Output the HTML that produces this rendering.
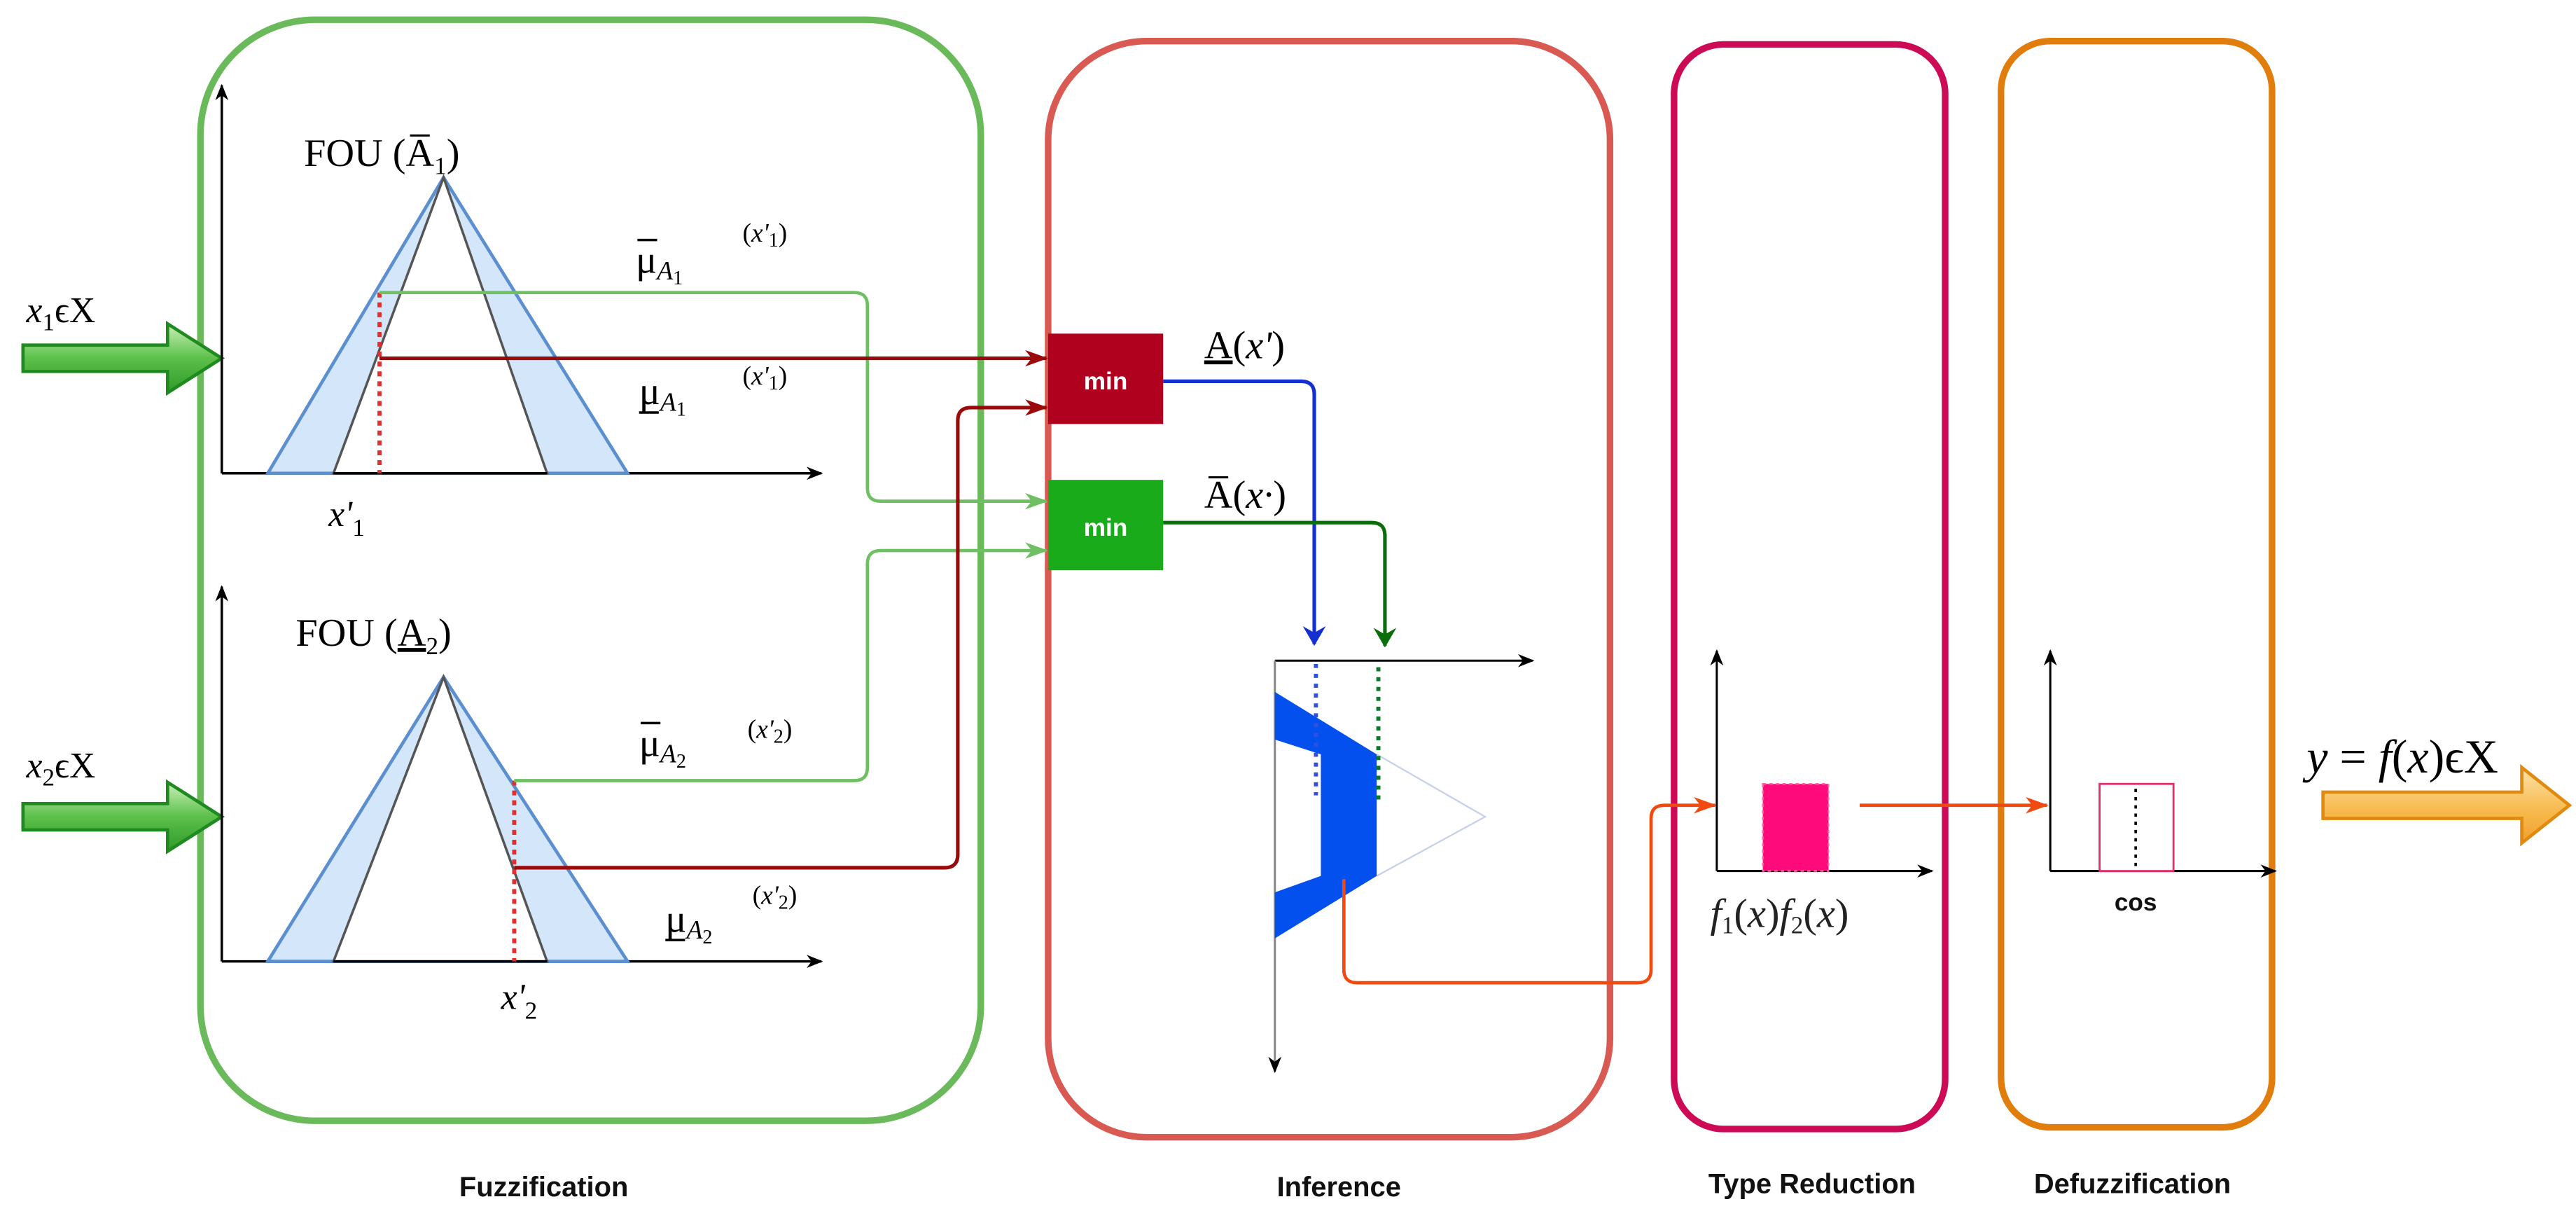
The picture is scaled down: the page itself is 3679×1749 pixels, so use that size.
<!DOCTYPE html>
<html><head><meta charset="utf-8"><style>
html,body{margin:0;padding:0;background:#fff;}
svg{display:block;}
.s{font-family:"Liberation Serif",serif;}
.b{font-family:"Liberation Sans",sans-serif;font-weight:bold;}
</style></head><body>
<svg width="3679" height="1749" viewBox="0 0 1568 745.4" xmlns="http://www.w3.org/2000/svg">
<defs>
<marker id="ak" markerWidth="10" markerHeight="8" refX="9" refY="4" orient="auto" markerUnits="userSpaceOnUse"><path d="M0,0 L10,4 L0,8 L3,4z" fill="#000"/></marker>
<marker id="ar" markerWidth="14" markerHeight="10" refX="13" refY="5" orient="auto" markerUnits="userSpaceOnUse"><path d="M0,0 L14,5 L0,10 L4,5z" fill="#9b0a0a"/></marker>
<marker id="ag" markerWidth="14" markerHeight="10" refX="13" refY="5" orient="auto" markerUnits="userSpaceOnUse"><path d="M0,0 L14,5 L0,10 L4,5z" fill="#6fc062"/></marker>
<marker id="ab" markerWidth="12" markerHeight="14" refX="11" refY="7" orient="auto" markerUnits="userSpaceOnUse"><path d="M0,0 L12,7 L0,14 L4,7z" fill="#1530d0"/></marker>
<marker id="adg" markerWidth="12" markerHeight="14" refX="11" refY="7" orient="auto" markerUnits="userSpaceOnUse"><path d="M0,0 L12,7 L0,14 L4,7z" fill="#0a6e0a"/></marker>
<marker id="ao" markerWidth="14" markerHeight="10" refX="13" refY="5" orient="auto" markerUnits="userSpaceOnUse"><path d="M0,0 L14,5 L0,10 L4,5z" fill="#f04a10"/></marker>
<linearGradient id="gg" x1="0" y1="0" x2="0" y2="1"><stop offset="0" stop-color="#c9f0b8"/><stop offset="0.5" stop-color="#5cc04a"/><stop offset="1" stop-color="#2f9a2a"/></linearGradient>
<linearGradient id="go" x1="0" y1="0" x2="0" y2="1"><stop offset="0" stop-color="#fde3a8"/><stop offset="0.6" stop-color="#f7b84a"/><stop offset="1" stop-color="#f0a030"/></linearGradient>
</defs>

<rect x="122" y="12" width="475" height="670" rx="70" fill="none" stroke="#6ab95b" stroke-width="4"/>
<rect x="638" y="25" width="342" height="667" rx="60" fill="none" stroke="#d95a52" stroke-width="4"/>
<rect x="1019" y="27" width="165" height="660" rx="30" fill="none" stroke="#cc0a55" stroke-width="4"/>
<rect x="1218" y="25" width="165" height="661" rx="30" fill="none" stroke="#e07d0c" stroke-width="4"/>

<g class="b" font-size="17" text-anchor="middle" fill="#111">
<text x="331" y="728">Fuzzification</text>
<text x="815" y="728">Inference</text>
<text x="1103" y="726">Type Reduction</text>
<text x="1298" y="726">Defuzzification</text>
</g>

<path d="M14,210 L102,210 L102,197 L135,218 L102,239 L102,226 L14,226z" fill="url(#gg)" stroke="#1f8a1f" stroke-width="2"/>
<path d="M14,489 L102,489 L102,476 L135,497 L102,518 L102,505 L14,505z" fill="url(#gg)" stroke="#1f8a1f" stroke-width="2"/>
<text class="s" x="16" y="196" font-size="22"><tspan font-style="italic">x</tspan><tspan font-size="15" dy="5">1</tspan><tspan dy="-5">ϵX</tspan></text>
<text class="s" x="16" y="473" font-size="22"><tspan font-style="italic">x</tspan><tspan font-size="15" dy="5">2</tspan><tspan dy="-5">ϵX</tspan></text>

<line x1="135" y1="288" x2="135" y2="52" stroke="#000" stroke-width="1.5" marker-end="url(#ak)"/>
<line x1="135" y1="288" x2="500" y2="288" stroke="#000" stroke-width="1.5" marker-end="url(#ak)"/>
<polygon points="163,288 270,108 382,288" fill="#d3e6fa" stroke="#5b8fd0" stroke-width="2"/>
<polygon points="203,288 270,108 333,288" fill="#fff" stroke="#555" stroke-width="1.5"/>
<line x1="203" y1="288" x2="333" y2="288" stroke="#000" stroke-width="1.5"/>
<line x1="231" y1="178" x2="231" y2="288" stroke="#e03030" stroke-width="2.5" stroke-dasharray="3,3"/>
<text class="s" x="185" y="101" font-size="24">FOU (<tspan>A̅</tspan><tspan font-size="15" dy="5">1</tspan><tspan dy="-5">)</tspan></text>
<text class="s" x="200" y="320" font-size="22" font-style="italic">x'<tspan font-size="15" font-style="normal" dy="6">1</tspan></text>

<line x1="135" y1="585" x2="135" y2="357" stroke="#000" stroke-width="1.5" marker-end="url(#ak)"/>
<line x1="135" y1="585" x2="500" y2="585" stroke="#000" stroke-width="1.5" marker-end="url(#ak)"/>
<polygon points="163,585 270,412 382,585" fill="#d3e6fa" stroke="#5b8fd0" stroke-width="2"/>
<polygon points="203,585 270,412 333,585" fill="#fff" stroke="#555" stroke-width="1.5"/>
<line x1="203" y1="585" x2="333" y2="585" stroke="#000" stroke-width="1.5"/>
<line x1="313" y1="475" x2="313" y2="585" stroke="#e03030" stroke-width="2.5" stroke-dasharray="3,3"/>
<text class="s" x="180" y="393" font-size="24">FOU (<tspan text-decoration="underline">A</tspan><tspan font-size="15" dy="5">2</tspan><tspan dy="-5">)</tspan></text>
<text class="s" x="305" y="614" font-size="22" font-style="italic">x'<tspan font-size="15" font-style="normal" dy="6">2</tspan></text>

<g class="s" font-size="24">
<text x="387" y="166">μ<tspan font-size="16" font-style="italic" dy="4">A</tspan><tspan font-size="12" dy="3">1</tspan></text>
<line x1="388" y1="146" x2="400" y2="146" stroke="#000" stroke-width="1.5"/>
<text x="452" y="147" font-size="16">(<tspan font-style="italic">x'</tspan><tspan font-size="12" dy="3">1</tspan><tspan dy="-3">)</tspan></text>
<text x="389" y="246">μ<tspan font-size="16" font-style="italic" dy="4">A</tspan><tspan font-size="12" dy="3">1</tspan></text>
<line x1="389" y1="251" x2="401" y2="251" stroke="#000" stroke-width="1.5"/>
<text x="452" y="234" font-size="16">(<tspan font-style="italic">x'</tspan><tspan font-size="12" dy="3">1</tspan><tspan dy="-3">)</tspan></text>
<text x="389" y="460">μ<tspan font-size="16" font-style="italic" dy="4">A</tspan><tspan font-size="12" dy="3">2</tspan></text>
<line x1="390" y1="440" x2="402" y2="440" stroke="#000" stroke-width="1.5"/>
<text x="455" y="449" font-size="16">(<tspan font-style="italic">x'</tspan><tspan font-size="12" dy="3">2</tspan><tspan dy="-3">)</tspan></text>
<text x="405" y="567">μ<tspan font-size="16" font-style="italic" dy="4">A</tspan><tspan font-size="12" dy="3">2</tspan></text>
<line x1="405" y1="572" x2="417" y2="572" stroke="#000" stroke-width="1.5"/>
<text x="458" y="550" font-size="16">(<tspan font-style="italic">x'</tspan><tspan font-size="12" dy="3">2</tspan><tspan dy="-3">)</tspan></text>
</g>

<path d="M231,178 L520,178 Q528,178 528,186 L528,297 Q528,305 536,305 L637,305" fill="none" stroke="#6fc062" stroke-width="2" marker-end="url(#ag)"/>
<path d="M231,218 L637,218" fill="none" stroke="#9b0a0a" stroke-width="2.2" marker-end="url(#ar)"/>
<path d="M313,475 L520,475 Q528,475 528,467 L528,343 Q528,335 536,335 L637,335" fill="none" stroke="#6fc062" stroke-width="2" marker-end="url(#ag)"/>
<path d="M313,528 L575,528 Q583,528 583,520 L583,256 Q583,248 591,248 L637,248" fill="none" stroke="#9b0a0a" stroke-width="2.2" marker-end="url(#ar)"/>

<rect x="638" y="203" width="70" height="55" fill="#b0021f"/>
<rect x="638" y="292" width="70" height="55" fill="#1aab1a"/>
<text class="b" x="673" y="237" font-size="15" fill="#fff" text-anchor="middle">min</text>
<text class="b" x="673" y="326" font-size="15" fill="#fff" text-anchor="middle">min</text>

<text class="s" x="733" y="218" font-size="24"><tspan text-decoration="underline">A</tspan>(<tspan font-style="italic">x'</tspan>)</text>
<text class="s" x="733" y="309" font-size="24">A̅(<tspan font-style="italic">x·</tspan>)</text>

<path d="M708,232 L792,232 Q800,232 800,240 L800,392" fill="none" stroke="#1530d0" stroke-width="2.2" marker-end="url(#ab)"/>
<path d="M708,318 L835,318 Q843,318 843,326 L843,393" fill="none" stroke="#0a6e0a" stroke-width="2.2" marker-end="url(#adg)"/>

<line x1="776" y1="402" x2="933" y2="402" stroke="#000" stroke-width="1.3" marker-end="url(#ak)"/>
<line x1="776" y1="402" x2="776" y2="652" stroke="#888" stroke-width="1.3"/>
<path d="M776,648 L776,652" stroke="#000" marker-end="url(#ak)"/>
<polyline points="838,459 904,497 838,533" fill="none" stroke="#c8d0ea" stroke-width="1"/>
<path d="M776,421 L838,459 L838,533 L776,571 Z M776,450 L804,459 L804,533 L776,543 Z" fill="#0350ee" fill-rule="evenodd"/>
<line x1="801" y1="404" x2="801" y2="484" stroke="#3050e0" stroke-width="2.5" stroke-dasharray="2.5,3.5"/>
<line x1="839" y1="406" x2="839" y2="488" stroke="#0a7a2a" stroke-width="2.5" stroke-dasharray="2.5,3.5"/>

<path d="M818,535 L818,590 Q818,598 826,598 L997,598 Q1005,598 1005,590 L1005,498 Q1005,490 1013,490 L1044,490" fill="none" stroke="#f04a10" stroke-width="2" marker-end="url(#ao)"/>

<line x1="1045" y1="530" x2="1045" y2="396" stroke="#000" stroke-width="1.3" marker-end="url(#ak)"/>
<line x1="1045" y1="530" x2="1176" y2="530" stroke="#000" stroke-width="1.3" marker-end="url(#ak)"/>
<rect x="1073" y="477" width="40" height="53" fill="#ff0a7a" stroke="#ff6aa8" stroke-dasharray="2,2"/>
<text class="s" x="1041" y="564" font-size="25" fill="#222"><tspan font-style="italic">f</tspan><tspan font-size="15" dy="4">1</tspan><tspan dy="-4">(</tspan><tspan font-style="italic">x</tspan>)<tspan font-style="italic">f</tspan><tspan font-size="15" dy="4">2</tspan><tspan dy="-4">(</tspan><tspan font-style="italic">x</tspan>)</text>
<path d="M1132,490 L1246,490" fill="none" stroke="#f04a10" stroke-width="2" marker-end="url(#ao)"/>

<line x1="1248" y1="530" x2="1248" y2="396" stroke="#000" stroke-width="1.3" marker-end="url(#ak)"/>
<line x1="1248" y1="530" x2="1385" y2="530" stroke="#000" stroke-width="1.3" marker-end="url(#ak)"/>
<rect x="1278" y="477" width="45" height="53" fill="#fff" stroke="#e0306a" stroke-width="1.2"/>
<line x1="1300" y1="480" x2="1300" y2="530" stroke="#000" stroke-width="1.6" stroke-dasharray="2,3"/>
<text class="b" x="1300" y="554" font-size="15" text-anchor="middle" fill="#111">cos</text>

<path d="M1414,482 L1535,482 L1535,467 L1564,490 L1535,513 L1535,498 L1414,498z" fill="url(#go)" stroke="#e08a10" stroke-width="2"/>
<text class="s" x="1404" y="470" font-size="29"><tspan font-style="italic">y</tspan> = <tspan font-style="italic">f</tspan>(<tspan font-style="italic">x</tspan>)ϵX</text>
</svg>
</body></html>
